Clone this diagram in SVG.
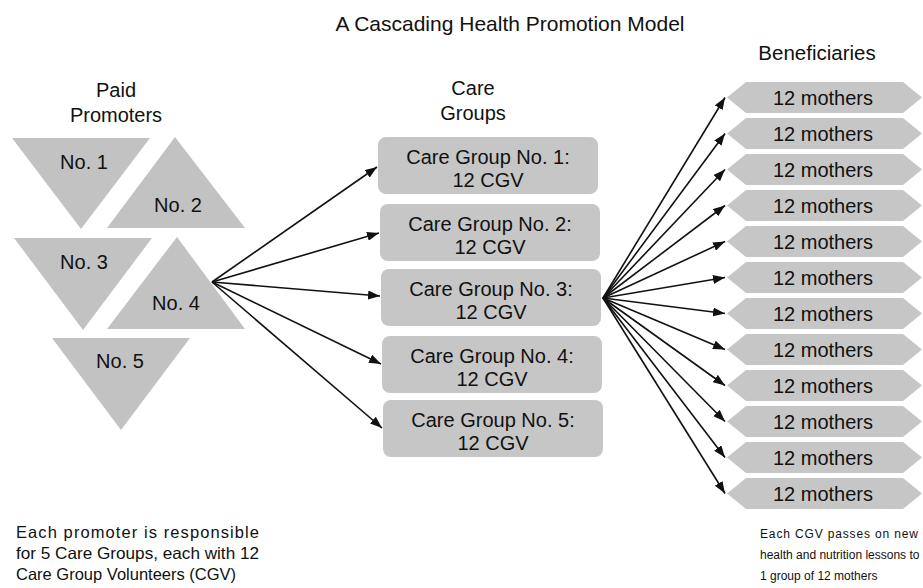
<svg xmlns="http://www.w3.org/2000/svg" width="923" height="588" viewBox="0 0 923 588">
<defs>
<style>
text{font-family:"Liberation Sans",Arial,sans-serif;fill:#111;}
.t{font-size:20px;text-anchor:middle;}
.title{font-size:21px;text-anchor:middle;}
.note{font-size:16.5px;}
.noteR{font-size:12px;}
.tri{fill:#c2c2c2;}
.box{fill:#c6c6c6;}
.hex{fill:#c6c6c6;}
.con{stroke:#111;stroke-width:1.6;fill:none;marker-end:url(#ah);}
</style>
<marker id="ah" markerUnits="userSpaceOnUse" markerWidth="12" markerHeight="9" refX="12" refY="4.5" orient="auto">
<path d="M0,0 L12,4.5 L0,9 z" fill="#111"/>
</marker>
</defs>
<rect width="923" height="588" fill="#fff"/>
<text class="title" x="510" y="31">A Cascading Health Promotion Model</text>
<g id="hdr-promoters"><text class="t" x="116" y="97">Paid</text><text class="t" x="116" y="122">Promoters</text></g>
<g id="hdr-groups"><text class="t" x="473" y="95">Care</text><text class="t" x="473" y="120">Groups</text></g>
<g id="hdr-benef"><text class="t" x="817" y="60" style="font-size:20.5px">Beneficiaries</text></g>

<g id="p1"><polygon class="tri" points="12,138 150,138 81,229"/><text class="t" x="84" y="169">No. 1</text></g>
<g id="p2"><polygon class="tri" points="175,137 245,228 107,228"/><text class="t" x="178" y="212">No. 2</text></g>
<g id="p3"><polygon class="tri" points="14,238 152,238 83,330"/><text class="t" x="84" y="269">No. 3</text></g>
<g id="p4"><polygon class="tri" points="177,237 245,329 107,329"/><text class="t" x="176" y="310">No. 4</text></g>
<g id="p5"><polygon class="tri" points="52,338 190,338 121,430"/><text class="t" x="120" y="368">No. 5</text></g>

<g id="cg1"><rect class="box" x="378" y="137" width="220" height="57" rx="8"/><text class="t" x="488" y="164">Care Group No. 1:</text><text class="t" x="488" y="187">12 CGV</text></g>
<g id="cg2"><rect class="box" x="380" y="204" width="220" height="57" rx="8"/><text class="t" x="490" y="231">Care Group No. 2:</text><text class="t" x="490" y="254">12 CGV</text></g>
<g id="cg3"><rect class="box" x="381" y="269" width="220" height="57" rx="8"/><text class="t" x="491" y="296">Care Group No. 3:</text><text class="t" x="491" y="319">12 CGV</text></g>
<g id="cg4"><rect class="box" x="382" y="336" width="220" height="57" rx="8"/><text class="t" x="492" y="363">Care Group No. 4:</text><text class="t" x="492" y="386">12 CGV</text></g>
<g id="cg5"><rect class="box" x="383" y="400" width="220" height="57" rx="8"/><text class="t" x="493" y="427">Care Group No. 5:</text><text class="t" x="493" y="450">12 CGV</text></g>

<g id="m1"><polygon class="hex" points="727,97.5 746,82 903,82 922,97.5 903,113 746,113"/><text class="t" x="823" y="104.5">12 mothers</text></g>
<g id="m2"><polygon class="hex" points="727,133.5 746,118 903,118 922,133.5 903,149 746,149"/><text class="t" x="823" y="140.5">12 mothers</text></g>
<g id="m3"><polygon class="hex" points="727,169.5 746,154 903,154 922,169.5 903,185 746,185"/><text class="t" x="823" y="176.5">12 mothers</text></g>
<g id="m4"><polygon class="hex" points="727,205.5 746,190 903,190 922,205.5 903,221 746,221"/><text class="t" x="823" y="212.5">12 mothers</text></g>
<g id="m5"><polygon class="hex" points="727,241.5 746,226 903,226 922,241.5 903,257 746,257"/><text class="t" x="823" y="248.5">12 mothers</text></g>
<g id="m6"><polygon class="hex" points="727,277.5 746,262 903,262 922,277.5 903,293 746,293"/><text class="t" x="823" y="284.5">12 mothers</text></g>
<g id="m7"><polygon class="hex" points="727,313.5 746,298 903,298 922,313.5 903,329 746,329"/><text class="t" x="823" y="320.5">12 mothers</text></g>
<g id="m8"><polygon class="hex" points="727,349.5 746,334 903,334 922,349.5 903,365 746,365"/><text class="t" x="823" y="356.5">12 mothers</text></g>
<g id="m9"><polygon class="hex" points="727,385.5 746,370 903,370 922,385.5 903,401 746,401"/><text class="t" x="823" y="392.5">12 mothers</text></g>
<g id="m10"><polygon class="hex" points="727,421.5 746,406 903,406 922,421.5 903,437 746,437"/><text class="t" x="823" y="428.5">12 mothers</text></g>
<g id="m11"><polygon class="hex" points="727,457.5 746,442 903,442 922,457.5 903,473 746,473"/><text class="t" x="823" y="464.5">12 mothers</text></g>
<g id="m12"><polygon class="hex" points="727,493.5 746,478 903,478 922,493.5 903,509 746,509"/><text class="t" x="823" y="500.5">12 mothers</text></g>

<g id="connectors">
<line class="con" x1="212" y1="282" x2="377" y2="167"/>
<line class="con" x1="212" y1="282" x2="379" y2="233"/>
<line class="con" x1="212" y1="282" x2="380" y2="296"/>
<line class="con" x1="212" y1="282" x2="381" y2="364"/>
<line class="con" x1="212" y1="282" x2="382" y2="428"/>
<line class="con" x1="603" y1="298" x2="725" y2="97.5"/>
<line class="con" x1="603" y1="298" x2="725" y2="133.5"/>
<line class="con" x1="603" y1="298" x2="725" y2="169.5"/>
<line class="con" x1="603" y1="298" x2="725" y2="205.5"/>
<line class="con" x1="603" y1="298" x2="725" y2="241.5"/>
<line class="con" x1="603" y1="298" x2="725" y2="277.5"/>
<line class="con" x1="603" y1="298" x2="725" y2="313.5"/>
<line class="con" x1="603" y1="298" x2="725" y2="349.5"/>
<line class="con" x1="603" y1="298" x2="725" y2="385.5"/>
<line class="con" x1="603" y1="298" x2="725" y2="421.5"/>
<line class="con" x1="603" y1="298" x2="725" y2="457.5"/>
<line class="con" x1="603" y1="298" x2="725" y2="493.5"/>
</g>

<g id="note-left">
<text class="note" x="16" y="538" textLength="243" lengthAdjust="spacing">Each promoter is responsible</text>
<text class="note" x="16" y="559" textLength="243" lengthAdjust="spacingAndGlyphs">for 5 Care Groups, each with 12</text>
<text class="note" x="16" y="580">Care Group Volunteers (CGV)</text>
</g>
<g id="note-right">
<text class="noteR" x="760" y="538" textLength="158" lengthAdjust="spacing">Each CGV passes on new</text>
<text class="noteR" x="760" y="559">health and nutrition lessons to</text>
<text class="noteR" x="760" y="580">1 group of 12 mothers</text>
</g>
</svg>
